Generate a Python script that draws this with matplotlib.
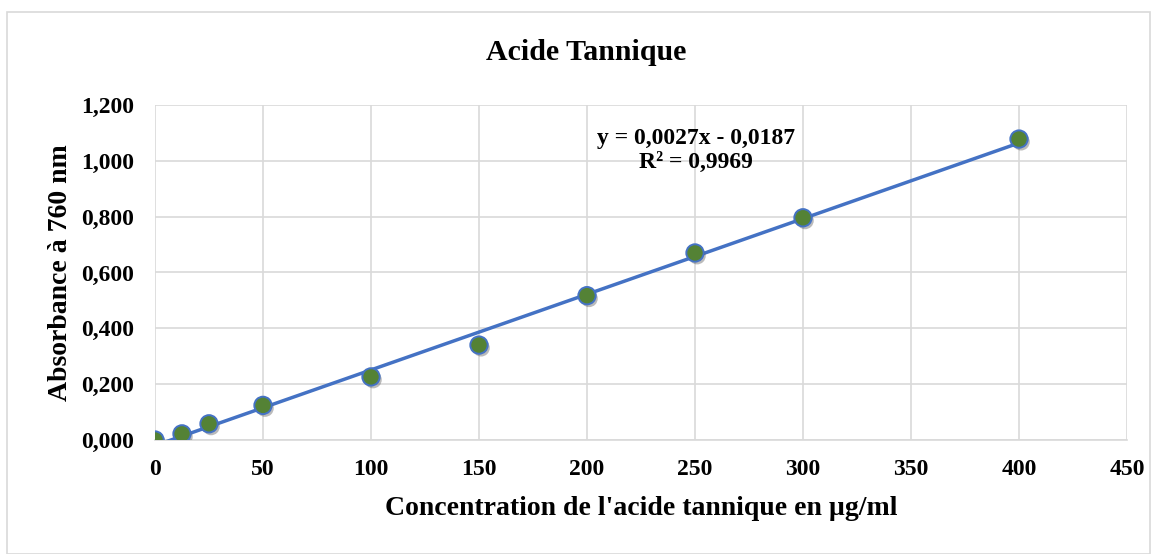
import numpy as np
import matplotlib
matplotlib.use("Agg")
import matplotlib.pyplot as plt
import matplotlib.patheffects as pe
from matplotlib.ticker import FuncFormatter, MultipleLocator

# data
concentration = [0, 12.5, 25, 50, 100, 150, 200, 250, 300, 400]
absorbance = [0.000, 0.022, 0.058, 0.124, 0.226, 0.340, 0.517, 0.670, 0.796, 1.078]
equation_text = "y = 0,0027x - 0,0187\nR² = 0,9969"

plt.rcParams["font.family"] = ["Liberation Serif", "DejaVu Serif"]
plt.rcParams["font.weight"] = "bold"

fig = plt.figure(figsize=(11.54, 5.54), dpi=100)
ax = fig.add_axes([155 / 1154, 1 - 440 / 554, (1127 - 155) / 1154, (440 - 105) / 554])

# outer chart frame like Excel
fig.patches.append(plt.Rectangle((7 / 1154, 0.0), 1143 / 1154, 1 - 12 / 554,
                                 transform=fig.transFigure, fill=False,
                                 edgecolor="#d9d9d9", linewidth=1.2))

# linear trendline
slope, intercept = np.polyfit(concentration, absorbance, 1)
xs = np.array([min(concentration), max(concentration)])
ax.plot(xs, slope * xs + intercept, color="#4472c4", linewidth=2.5, zorder=3)

ax.plot(concentration, absorbance, linestyle="none", marker="o", markersize=12.5,
        markerfacecolor="#548235", markeredgecolor="#4472c4", markeredgewidth=1.4,
        zorder=4, path_effects=[pe.SimplePatchShadow(offset=(1.5, -2), shadow_rgbFace="#555555",
                                                     alpha=0.4),
                                pe.Normal()])

ax.set_xlim(0, 450)
ax.set_ylim(0, 1.2)
ax.xaxis.set_major_locator(MultipleLocator(50))
ax.yaxis.set_major_locator(MultipleLocator(0.2))
ax.yaxis.set_major_formatter(FuncFormatter(lambda v, p: f"{v:.3f}".replace(".", ",")))
ax.grid(True, color="#d9d9d9", linewidth=1.2)
ax.set_axisbelow(True)
for side in ["top", "right", "left"]:
    ax.spines[side].set_visible(False)
ax.spines["bottom"].set_color("#d9d9d9")
ax.spines["bottom"].set_linewidth(1.2)
ax.tick_params(length=0, labelsize=17)
ax.tick_params(axis="x", pad=14)
ax.tick_params(axis="y", pad=15)
for lbl in ax.get_xticklabels() + ax.get_yticklabels():
    lbl.set_fontweight("bold")

ax.set_xlabel("Concentration de l'acide tannique en µg/ml", fontsize=20,
              fontweight="bold", labelpad=11)
ax.set_ylabel("Absorbance à 760 nm", fontsize=20, fontweight="bold", labelpad=6)
fig.text(586 / 1154, 1 - 52 / 554, "Acide Tannique", ha="center", va="center",
         fontsize=21.5, fontweight="bold")

ax.text(250.5, 1.037, equation_text, ha="center", va="center", fontsize=17,
        fontweight="bold", linespacing=1.2)

fig.savefig("out.png", dpi=100)
